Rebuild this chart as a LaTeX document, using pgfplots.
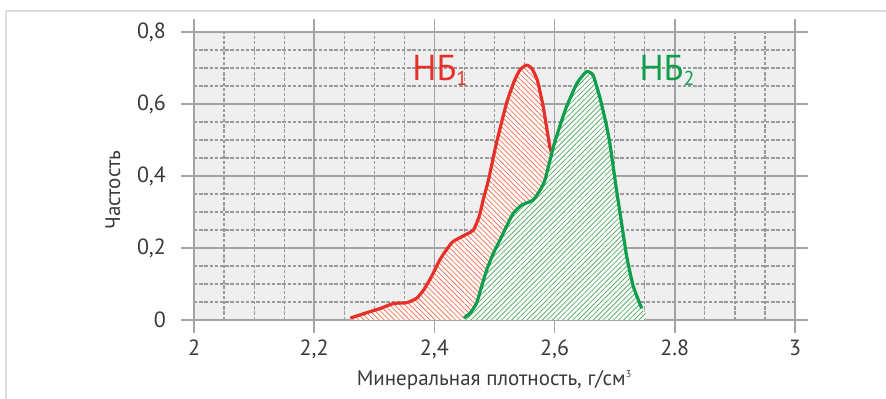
\documentclass[border=0pt]{standalone}
\usepackage{fontspec}
\setmainfont{PT Sans}
\usepackage{pgfplots}
\pgfplotsset{compat=1.18}
\usetikzlibrary{patterns.meta}
\definecolor{bggray}{HTML}{EFEFEF}
\definecolor{gridgray}{HTML}{A3A3A3}
\definecolor{minorgray}{HTML}{9A9A9A}
\definecolor{txtgray}{HTML}{3A3A3A}
\definecolor{cred}{HTML}{E8302A}
\definecolor{hred}{HTML}{F07A5A}
\definecolor{cgreen}{HTML}{0E9E4C}
\definecolor{hgreen}{HTML}{5AAE6A}
\definecolor{framegray}{HTML}{DDDDDD}
\begin{document}
\begin{tikzpicture}
\begin{axis}[
  scale only axis,
  width=300.5pt, height=144pt,
  xmin=2, xmax=3, ymin=0, ymax=0.8,
  clip=false,
  axis background/.style={fill=bggray},
  axis line style={gridgray, line width=0.7pt},
  xtick={2,2.2,2.4,2.6,2.8,3},
  xticklabels={2,{2,2},{2,4},{2,6},2.8,3},
  ytick={0,0.2,0.4,0.6,0.8},
  yticklabels={0,{0,2},{0,4},{0,6},{0,8}},
  minor x tick num=3, minor y tick num=3,
  grid=both,
  major grid style={gridgray, line width=0.8pt},
  minor grid style={minorgray, line width=0.6pt, dash pattern=on 1.7pt off 0.9pt},
  tick align=outside,
  major tick length=6.5pt, minor tick length=0pt,
  tick style={gridgray, line width=0.8pt},
  x tick label style={font=\fontsize{11}{13}\selectfont, text=txtgray},
  y tick label style={font=\fontsize{11}{13}\selectfont, text=txtgray, xshift=-4pt},
  /pgf/number format/assume math mode=true,
  xlabel={Минеральная плотность, г/см\textsuperscript{\fontsize{5}{5}\selectfont 3}},
  ylabel={Частость},
  xlabel style={font=\fontsize{10.5}{12}\selectfont, text=txtgray, at={(axis description cs:0.5,0)}, anchor=center, yshift=-30pt},
  ylabel style={font=\fontsize{10.5}{12}\selectfont, text=txtgray, at={(axis description cs:-0.135,0.451)}, anchor=center},
]
\coordinate (sw) at (rel axis cs:0,0);
\coordinate (ne) at (rel axis cs:1,1);
% red area
\addplot[fill=white, draw=none] coordinates {
(2.26,0.005) (2.285,0.019) (2.31,0.032) (2.332,0.046) (2.354,0.048) (2.37,0.06) (2.382,0.083) (2.395,0.12) (2.409,0.167) (2.42,0.195) (2.431,0.218) (2.451,0.236) (2.465,0.25) (2.475,0.29) (2.481,0.333) (2.49,0.389) (2.503,0.49) (2.52,0.602) (2.532,0.66) (2.542,0.694) (2.553,0.708) (2.562,0.699) (2.571,0.667) (2.581,0.593) (2.592,0.481) (2.596,0.462)
} \closedcycle;
\addplot[draw=none, pattern={Lines[angle=-45, distance=1.8pt, line width=0.4pt]}, pattern color=hred] coordinates {
(2.26,0.005) (2.285,0.019) (2.31,0.032) (2.332,0.046) (2.354,0.048) (2.37,0.06) (2.382,0.083) (2.395,0.12) (2.409,0.167) (2.42,0.195) (2.431,0.218) (2.451,0.236) (2.465,0.25) (2.475,0.29) (2.481,0.333) (2.49,0.389) (2.503,0.49) (2.52,0.602) (2.532,0.66) (2.542,0.694) (2.553,0.708) (2.562,0.699) (2.571,0.667) (2.581,0.593) (2.592,0.481) (2.596,0.462)
} \closedcycle;
\addplot[cred, line width=1.6pt, line join=round, smooth, tension=0.3] coordinates {
(2.26,0.005) (2.285,0.019) (2.31,0.032) (2.332,0.046) (2.354,0.048) (2.37,0.06) (2.382,0.083) (2.395,0.12) (2.409,0.167) (2.42,0.195) (2.431,0.218) (2.451,0.236) (2.465,0.25) (2.475,0.29) (2.481,0.333) (2.49,0.389) (2.503,0.49) (2.52,0.602) (2.532,0.66) (2.542,0.694) (2.553,0.708) (2.562,0.699) (2.571,0.667) (2.581,0.593) (2.592,0.481) (2.596,0.462)
};
% green area
\addplot[fill=white, draw=none] coordinates {
(2.449,0.005) (2.46,0.02) (2.47,0.046) (2.478,0.09) (2.487,0.139) (2.498,0.185) (2.509,0.222) (2.52,0.26) (2.531,0.296) (2.545,0.319) (2.564,0.333) (2.576,0.361) (2.584,0.389) (2.598,0.481) (2.61,0.545) (2.62,0.593) (2.637,0.657) (2.653,0.69) (2.664,0.68) (2.675,0.62) (2.685,0.55) (2.692,0.49) (2.703,0.361) (2.709,0.296) (2.72,0.176) (2.731,0.093) (2.745,0.032) (2.752,0.015)
} \closedcycle;
\addplot[draw=none, pattern={Lines[angle=45, distance=1.8pt, line width=0.4pt]}, pattern color=hgreen] coordinates {
(2.449,0.005) (2.46,0.02) (2.47,0.046) (2.478,0.09) (2.487,0.139) (2.498,0.185) (2.509,0.222) (2.52,0.26) (2.531,0.296) (2.545,0.319) (2.564,0.333) (2.576,0.361) (2.584,0.389) (2.598,0.481) (2.61,0.545) (2.62,0.593) (2.637,0.657) (2.653,0.69) (2.664,0.68) (2.675,0.62) (2.685,0.55) (2.692,0.49) (2.703,0.361) (2.709,0.296) (2.72,0.176) (2.731,0.093) (2.745,0.032) (2.752,0.015)
} \closedcycle;
\addplot[cgreen, line width=1.6pt, line join=round, smooth, tension=0.3] coordinates {
(2.449,0.005) (2.46,0.02) (2.47,0.046) (2.478,0.09) (2.487,0.139) (2.498,0.185) (2.509,0.222) (2.52,0.26) (2.531,0.296) (2.545,0.319) (2.564,0.333) (2.576,0.361) (2.584,0.389) (2.598,0.481) (2.61,0.545) (2.62,0.593) (2.637,0.657) (2.653,0.69) (2.664,0.68) (2.675,0.62) (2.685,0.55) (2.692,0.49) (2.703,0.361) (2.709,0.296) (2.72,0.176) (2.731,0.093) (2.745,0.032)
};
\node[text=cred, font=\fontsize{18}{20}\selectfont, inner sep=0pt] at (axis cs:2.409,0.694) {НБ\raisebox{-2.5pt}{\fontsize{10}{10}\selectfont 1}};
\node[text=cgreen, font=\fontsize{18}{20}\selectfont, inner sep=0pt] at (axis cs:2.787,0.694) {НБ\raisebox{-2.5pt}{\fontsize{10}{10}\selectfont 2}};
\end{axis}
\pgfresetboundingbox
\path[use as bounding box] ([shift={(-97pt,-39.5pt)}]sw) rectangle ([shift={(45.5pt,16pt)}]ne);
\draw[framegray, line width=0.8pt] ([shift={(-94pt,-40pt)}]sw) -- ([shift={(-94pt,10.5pt)}]sw |- ne) -- ([shift={(46pt,10.5pt)}]ne);
\end{tikzpicture}
\end{document}
